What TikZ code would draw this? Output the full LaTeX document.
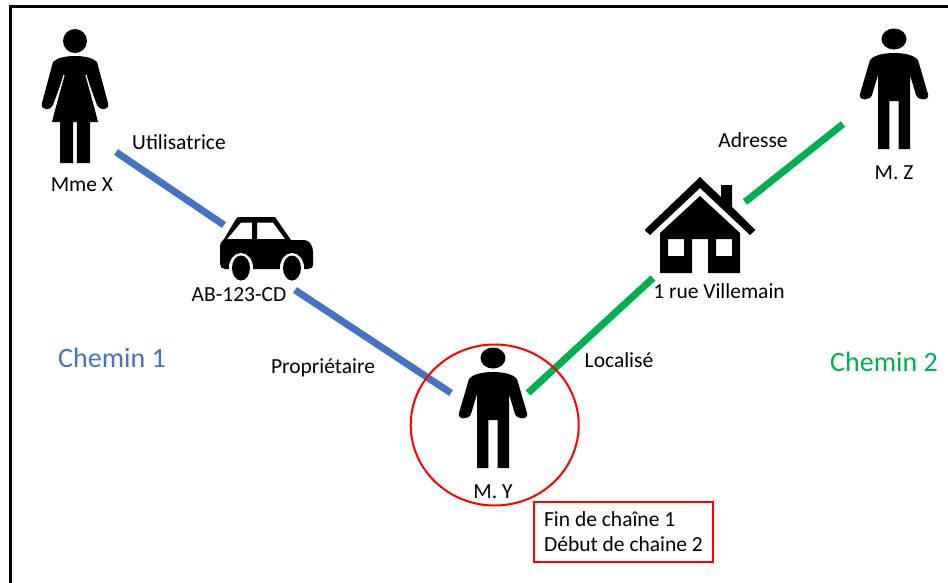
\documentclass[tikz,border=0pt]{standalone}
\usepackage{tikz}
\usepackage{tkz-euclide}
\usepackage{fontspec}
\setmainfont{Carlito}
\definecolor{chemina}{HTML}{4472C4}
\definecolor{cheminb}{HTML}{00B050}
\tikzset{
  lien/.style={line width=7pt,line cap=butt},
  etiq/.style={inner sep=0pt,font=\fontsize{21.5}{25}\selectfont,text=black},
  titre/.style={inner sep=0pt,font=\fontsize{28}{30}\selectfont},
  homme/.pic={
    \fill (0,0) ellipse [x radius=12.5,y radius=10.5];
    \fill (0,14) .. controls (-10,14) and (-20,16) .. (-24,21)
      -- (-34,55) .. controls (-36,62) and (-24,62) .. (-22,56)
      -- (-16,36) -- (-16,110) -- (-4.7,110) -- (-4.7,62) -- (4.7,62) -- (4.7,110) -- (16,110)
      -- (16,36) -- (22,56) .. controls (24,62) and (36,62) .. (34,55)
      -- (24,21) .. controls (20,16) and (10,14) .. (0,14) -- cycle;
  },
  femme/.pic={
    \fill (0,0) circle [radius=12];
    \fill (0,15) .. controls (-10,15) and (-18,17) .. (-22,21)
      -- (-33,62) .. controls (-35,70) and (-24,70) .. (-22,64)
      -- (-11,34) -- (-23,81) -- (-15,81) -- (-15,122) -- (-1.8,122) -- (-1.8,81)
      -- (1.8,81) -- (1.8,122) -- (15,122) -- (15,81) -- (23,81)
      -- (11,34) -- (22,64) .. controls (24,70) and (35,70) .. (33,62)
      -- (22,21) .. controls (18,17) and (10,15) .. (0,15) -- cycle;
    \draw[white,line width=1.2pt] (-11,34) -- (-20,66) (11,34) -- (20,66);
  },
}
\begin{document}
\begin{tikzpicture}[x=1pt,y=-1pt]
    \useasboundingbox (0,0) rectangle (948,582);
    \tkzDefPoints{116/152/A,224/225/B,295/290/C,451/393/D,
      843/124/E,745/202/F,653/278/G,528/393/H}
    % cadre
    \draw[line width=3pt,line cap=rect] (10,582) -- (10,6) -- (948,6);
    % personnes
    \pic at (75,41) {femme};
    \pic at (894,39) {homme};
    \pic at (493,358) {homme};
    % voiture
    \fill[even odd rule] (238,217) -- (275,217) -- (291,240) -- (304,240)
      .. controls (310,240) and (313,246) .. (313,252) -- (313,264)
      .. controls (313,268) and (311,269) .. (308,269) -- (225,269)
      .. controls (222,269) and (220,267) .. (220,264) -- (220,247)
      .. controls (220,243) and (222,241) .. (224,239) -- (236,219) -- cycle
      (227,239) -- (241,222.5) -- (252,222.5) -- (252,239) -- cycle
      (257,222.5) -- (273,222.5) -- (285,239) -- (257,239) -- cycle;
    \foreach \cx in {241,292} {
      \fill[white] (\cx,268) ellipse [x radius=12,y radius=15];
      \fill (\cx,268) ellipse [x radius=9,y radius=12.5];
    }
    % maison
    \fill (700,177) -- (644.5,230) -- (650,235) -- (700,188) -- (750,235) -- (755.5,230)
      -- (732,207) -- (732,185) -- (721,185) -- (721,197) -- cycle;
    \fill[even odd rule] (700,196) -- (660,233) -- (660,273) -- (692,273) -- (692,239)
      -- (708,239) -- (708,273) -- (740,273) -- (740,233) -- cycle
      (668,239) rectangle (684,256) (716,239) rectangle (732,256);
    % liens
    \tkzDrawSegment[lien,chemina](A,B)
    \tkzDrawSegment[lien,chemina](C,D)
    \tkzDrawSegment[lien,cheminb](E,F)
    \tkzDrawSegment[lien,cheminb](G,H)
    % textes
    \node[etiq] (mmex) at (82,185) {Mme X};
    \node[etiq] (utilisatrice) at (179,142) {Utilisatrice};
    \node[etiq] (plaque) at (239,295) {AB-123-CD};
    \node[etiq] (proprietaire) at (323,368) {Propriétaire};
    \node[etiq] (my) at (493,492) {M. Y};
    \node[etiq] (localise) at (619,360) {Localisé};
    \node[etiq] (adresse) at (753,140) {Adresse};
    \node[etiq] (rue) at (719,291) {1 rue Villemain};
    \node[etiq] (mz) at (894,173) {M. Z};
    \node[titre,text=chemina] (chemin1) at (112,358) {Chemin 1};
    \node[titre,text=cheminb] (chemin2) at (884,362) {Chemin 2};
    % chaine
    \draw[red,line width=2pt] (494.7,425) ellipse [x radius=84,y radius=80.5];
    \node[draw=red,line width=1.5pt,minimum width=179pt,minimum height=60pt,
      inner sep=0pt,etiq,align=left] (chaine) at (623.5,532)
      {Fin de chaîne 1\\Début de chaine 2};
\end{tikzpicture}
\end{document}
